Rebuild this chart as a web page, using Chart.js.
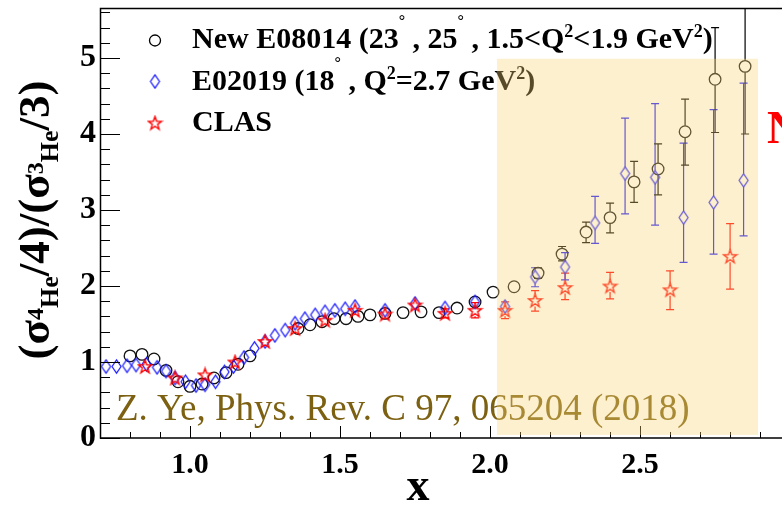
<!DOCTYPE html>
<html>
<head>
<meta charset="utf-8">
<script src="https://cdn.jsdelivr.net/npm/chart.js@4.4.1/dist/chart.umd.min.js"></script>
<style>
  html, body { margin: 0; padding: 0; background: #fff; }
</style>
</head>
<body>
<canvas id="ratioChart" width="782" height="509"></canvas>
<script>
// New E08014 (open circles)
const e08014X = [0.80, 0.84, 0.88, 0.92, 0.96, 1.00, 1.04, 1.08, 1.12, 1.16, 1.20, 1.36, 1.40, 1.44, 1.48, 1.52, 1.56, 1.60, 1.65, 1.71, 1.77, 1.83, 1.89, 1.95, 2.01, 2.08, 2.16, 2.24, 2.32, 2.40, 2.48, 2.56, 2.65, 2.75, 2.85];
const e08014Y = [1.08, 1.10, 1.04, 0.89, 0.74, 0.68, 0.71, 0.79, 0.86, 0.97, 1.08, 1.44, 1.49, 1.53, 1.57, 1.57, 1.60, 1.62, 1.64, 1.65, 1.66, 1.65, 1.71, 1.79, 1.92, 1.99, 2.17, 2.42, 2.71, 2.90, 3.37, 3.54, 4.03, 4.72, 4.89];
const e08014Lo = [null, null, null, null, null, null, null, null, null, null, null, null, null, null, null, null, null, null, null, null, null, null, null, null, null, null, 2.10, 2.33, 2.57, 2.70, 3.10, 3.20, 3.59, 4.02, 4.00];
const e08014Hi = [null, null, null, null, null, null, null, null, null, null, null, null, null, null, null, null, null, null, null, null, null, null, null, null, null, null, 2.24, 2.52, 2.84, 3.09, 3.64, 3.87, 4.46, 5.40, 5.80];

// E02019 (open diamonds)
const e02019X = [0.72, 0.755, 0.79, 0.82, 0.855, 0.89, 0.92, 0.95, 0.985, 1.02, 1.05, 1.085, 1.115, 1.145, 1.18, 1.215, 1.25, 1.283, 1.317, 1.35, 1.383, 1.417, 1.45, 1.483, 1.517, 1.55, 1.65, 1.75, 1.85, 1.95, 2.05, 2.15, 2.25, 2.35, 2.45, 2.55, 2.645, 2.745, 2.845];
const e02019Y = [0.94, 0.94, 0.95, 0.96, 0.97, 0.93, 0.88, 0.79, 0.74, 0.69, 0.70, 0.74, 0.87, 0.94, 1.06, 1.18, 1.27, 1.35, 1.42, 1.51, 1.57, 1.62, 1.66, 1.68, 1.70, 1.73, 1.68, 1.77, 1.71, 1.79, 1.73, 2.12, 2.25, 2.83, 3.48, 3.43, 2.90, 3.10, 3.39];
const e02019Lo = [null, null, null, null, null, null, null, null, null, null, null, null, null, null, null, null, null, null, null, null, null, null, null, null, null, null, null, null, null, null, null, 1.99, 2.08, 2.56, 2.95, 2.80, 2.31, 2.42, 2.66];
const e02019Hi = [null, null, null, null, null, null, null, null, null, null, null, null, null, null, null, null, null, null, null, null, null, null, null, null, null, null, null, null, null, null, null, 2.24, 2.44, 3.18, 4.21, 4.40, 3.88, 4.32, 4.67];

// CLAS (open stars)
const clasX = [0.85, 0.95, 1.05, 1.15, 1.25, 1.35, 1.45, 1.55, 1.65, 1.75, 1.85, 1.95, 2.05, 2.15, 2.25, 2.40, 2.60, 2.80];
const clasY = [0.94, 0.79, 0.83, 1.00, 1.27, 1.44, 1.55, 1.68, 1.63, 1.75, 1.64, 1.68, 1.68, 1.81, 1.98, 2.00, 1.95, 2.39];
const clasLo = [null, null, null, null, null, null, null, null, null, null, 1.58, 1.58, 1.57, 1.67, 1.82, 1.83, 1.69, 1.96];
const clasHi = [null, null, null, null, null, null, null, null, null, null, 1.70, 1.78, 1.79, 1.94, 2.17, 2.18, 2.20, 2.82];

// highlighted x range
const bandX = [2.023, 2.893];
const bandY = [0.04, 4.99];

const serif = '"Liberation Serif", "Times New Roman", serif';

function toPoints(xs, ys) {
    return xs.map((x, i) => ({ x: x, y: ys[i] }));
}

function diamondImg(color) {
    const c = document.createElement('canvas');
    c.width = 13; c.height = 17;
    const g = c.getContext('2d');
    g.strokeStyle = color; g.lineWidth = 1.2;
    g.beginPath();
    g.moveTo(6.5, 1.8); g.lineTo(11, 8.5); g.lineTo(6.5, 15.2); g.lineTo(2, 8.5);
    g.closePath(); g.stroke();
    return c;
}

function starImg(color) {
    const c = document.createElement('canvas');
    c.width = 17; c.height = 17;
    const g = c.getContext('2d');
    g.strokeStyle = color; g.lineWidth = 1.4;
    g.beginPath();
    for (let i = 0; i < 10; i++) {
        const a = -Math.PI / 2 + i * Math.PI / 5;
        const r = i % 2 ? 2.8 : 7;
        const px = 8.5 + r * Math.cos(a), py = 9 + r * Math.sin(a);
        if (i === 0) g.moveTo(px, py); else g.lineTo(px, py);
    }
    g.closePath(); g.stroke();
    return c;
}

const diamond = diamondImg('#1818ff');
const star = starImg('#ff0000');

function richText(ctx, x, y, parts, weight) {
    let cx = x;
    parts.forEach(([t, size, dy]) => {
        ctx.font = `${weight} ${size}px ${serif}`;
        ctx.fillText(t, cx, y + dy);
        cx += ctx.measureText(t).width;
    });
    return cx - x;
}

function richWidth(ctx, parts, weight) {
    let w = 0;
    parts.forEach(([t, size]) => {
        ctx.font = `${weight} ${size}px ${serif}`;
        w += ctx.measureText(t).width;
    });
    return w;
}

function noPadding(s) {
    s.paddingTop = 0; s.paddingBottom = 0; s.paddingLeft = 0; s.paddingRight = 0;
}

const errorBars = {
    id: 'errorBars',
    beforeDatasetsDraw(chart) {
        const { ctx, chartArea: a, scales: { x, y } } = chart;
        ctx.save();
        ctx.beginPath();
        ctx.rect(a.left, a.top, a.right - a.left, a.bottom - a.top);
        ctx.clip();
        chart.data.datasets.forEach(ds => {
            if (!ds.errLo) return;
            ctx.strokeStyle = ds.errColor;
            ctx.lineWidth = 1.2;
            ds.data.forEach((p, i) => {
                const lo = ds.errLo[i], hi = ds.errHi[i];
                if (lo == null) return;
                const px = x.getPixelForValue(p.x), py = y.getPixelForValue(p.y);
                const pl = y.getPixelForValue(lo), ph = y.getPixelForValue(hi);
                const gap = ds.errGap;
                ctx.beginPath();
                if (ph < py - gap) { ctx.moveTo(px, ph); ctx.lineTo(px, py - gap); }
                if (pl > py + gap) { ctx.moveTo(px, py + gap); ctx.lineTo(px, pl); }
                ctx.moveTo(px - 4, ph); ctx.lineTo(px + 4, ph);
                ctx.moveTo(px - 4, pl); ctx.lineTo(px + 4, pl);
                ctx.stroke();
            });
        });
        ctx.restore();

        // reference text
        ctx.save();
        ctx.fillStyle = '#7d6112';
        ctx.font = `37px ${serif}`;
        ctx.textBaseline = 'alphabetic';
        ctx.fillText('Z. Ye, Phys. Rev. C 97, 065204 (2018)', 116, 420);
        ctx.restore();
    }
};

const frame = {
    id: 'frame',
    afterDatasetsDraw(chart) {
        const { ctx, chartArea: a, scales: { x, y } } = chart;
        ctx.save();
        ctx.strokeStyle = '#000';
        ctx.lineWidth = 1;
        ctx.beginPath();
        x.ticks.forEach(t => {
            const px = Math.round(x.getPixelForValue(t.value)) + 0.5;
            const len = t.label ? 12 : 6;
            ctx.moveTo(px, a.bottom); ctx.lineTo(px, a.bottom - len);
        });
        y.ticks.forEach(t => {
            const py = Math.round(y.getPixelForValue(t.value)) + 0.5;
            const len = t.label ? 20 : 10;
            ctx.moveTo(a.left, py); ctx.lineTo(a.left + len, py);
        });
        ctx.stroke();
        ctx.lineWidth = 1.5;
        ctx.beginPath();
        ctx.moveTo(a.right, a.top + 0.5); ctx.lineTo(a.left + 0.5, a.top + 0.5);
        ctx.lineTo(a.left + 0.5, a.bottom); ctx.lineTo(a.right, a.bottom);
        ctx.stroke();

        // legend
        ctx.fillStyle = '#000';
        ctx.textBaseline = 'alphabetic';
        ctx.beginPath();
        ctx.lineWidth = 1.3;
        ctx.arc(155, 40.5, 5.5, 0, Math.PI * 2);
        ctx.stroke();
        ctx.drawImage(diamond, 155 - diamond.width / 2, 81.5 - diamond.height / 2);
        ctx.drawImage(star, 155 - star.width / 2, 123 - star.height / 2);
        richText(ctx, 192, 48, [
            ['New E08014 (23', 30, 0], ['\u00b0', 16, -22], [' , 25', 30, 0], ['\u00b0', 16, -22],
            [' , 1.5<Q', 30, 0], ['2', 18, -11], ['<1.9 GeV', 30, 0], ['2', 18, -11], [')', 30, 0]
        ], 'bold');
        richText(ctx, 192, 90, [
            ['E02019 (18', 30, 0], ['\u00b0', 16, -22], [' , Q', 30, 0], ['2', 18, -11],
            ['=2.7 GeV', 30, 0], ['2', 18, -11], [')', 30, 0]
        ], 'bold');
        richText(ctx, 192, 131, [['CLAS', 30, 0]], 'bold');

        // axis titles
        ctx.font = `bold 46px ${serif}`;
        ctx.textAlign = 'center';
        ctx.fillText('x', 418, 500);
        ctx.textAlign = 'left';
        const yParts = [
            ['(\u03c3', 45, 0], ['4', 24, -6], ['He', 26, 9], ['/4)/(\u03c3', 45, 0],
            ['3', 24, -6], ['He', 26, 9], ['/3)', 45, 0]
        ];
        const w = richWidth(ctx, yParts, 'bold');
        ctx.translate(49, 220);
        ctx.rotate(-Math.PI / 2);
        richText(ctx, -w / 2, 0, yParts, 'bold');
        ctx.restore();
    },
    afterDraw(chart) {
        const { ctx, scales: { x, y } } = chart;
        ctx.save();
        const x0 = x.getPixelForValue(bandX[0]), x1 = x.getPixelForValue(bandX[1]);
        const y0 = y.getPixelForValue(bandY[1]), y1 = y.getPixelForValue(bandY[0]);
        ctx.fillStyle = 'rgba(249, 211, 117, 0.35)';
        ctx.fillRect(x0, y0, x1 - x0, y1 - y0);
        ctx.fillStyle = '#ff0000';
        ctx.font = `bold 46px ${serif}`;
        ctx.fillText('N', 767, 143);
        ctx.restore();
    }
};

const ctx = document.getElementById('ratioChart').getContext('2d');
new Chart(ctx, {
    type: 'scatter',
    data: {
        datasets: [{
            label: 'CLAS',
            data: toPoints(clasX, clasY),
            pointStyle: star,
            pointRadius: 7,
            errLo: clasLo, errHi: clasHi, errColor: '#ff0000', errGap: 6
        }, {
            label: 'E02019',
            data: toPoints(e02019X, e02019Y),
            pointStyle: diamond,
            pointRadius: 7,
            errLo: e02019Lo, errHi: e02019Hi, errColor: '#1818ff', errGap: 6.5
        }, {
            label: 'New E08014',
            data: toPoints(e08014X, e08014Y),
            pointStyle: 'circle',
            pointRadius: 5.8,
            borderColor: '#111',
            backgroundColor: 'rgba(0,0,0,0)',
            borderWidth: 1.3,
            errLo: e08014Lo, errHi: e08014Hi, errColor: '#000', errGap: 6
        }]
    },
    options: {
        responsive: false,
        animation: false,
        layout: { autoPadding: false, padding: { top: 8, right: 0, left: 0, bottom: 0 } },
        plugins: {
            legend: { display: false },
            tooltip: { enabled: false }
        },
        scales: {
            x: {
                type: 'linear',
                min: 0.7,
                max: 2.973,
                afterFit: s => { s.height = 71; noPadding(s); },
                grid: { display: false, drawTicks: false },
                border: { display: false },
                ticks: {
                    stepSize: 0.1,
                    includeBounds: false,
                    autoSkip: false,
                    maxRotation: 0,
                    padding: 9,
                    color: '#000',
                    font: { family: serif, weight: 'bold', size: 30 },
                    callback: v => Math.abs(v * 2 - Math.round(v * 2)) < 1e-6 ? v.toFixed(1) : ''
                }
            },
            y: {
                min: 0,
                max: 5.658,
                afterFit: s => { s.width = 100; noPadding(s); },
                grid: { display: false, drawTicks: false },
                border: { display: false },
                ticks: {
                    stepSize: 0.2,
                    includeBounds: false,
                    autoSkip: false,
                    padding: 4,
                    color: '#000',
                    font: { family: serif, weight: 'bold', size: 32 },
                    callback: v => Math.abs(v - Math.round(v)) < 1e-6 ? String(Math.round(v)) : ''
                }
            }
        }
    },
    plugins: [errorBars, frame]
});
</script>
</body>
</html>
